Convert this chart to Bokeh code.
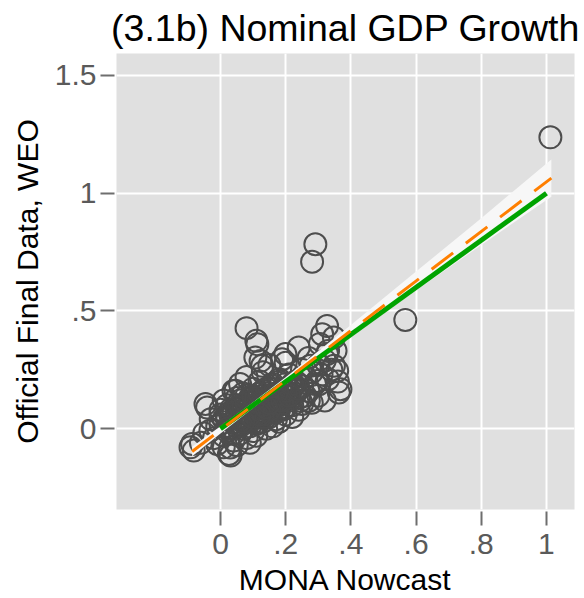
from bokeh.plotting import figure
from bokeh.models import FixedTicker, ColumnDataSource
from bokeh.embed import file_html
from bokeh.resources import INLINE

# ---- data ----
nowcast = [
    1.012, 0.291, 0.281, 0.567, 0.080, 0.327, 0.312, 0.348, 0.110, 0.113,
    0.240, 0.353, 0.327, 0.199, 0.107, 0.123, 0.189, 0.128, 0.276, 0.348,
    0.358, 0.297, 0.302, 0.368, 0.363, 0.245, 0.271, 0.250, 0.199, -0.092,
    -0.082, -0.087, -0.041, -0.046, 0.031, 0.026, 0.046, -0.010, 0.010, -0.031,
    0.00, 0.01, 0.02, 0.02, 0.03, 0.03, 0.04, 0.04, 0.05, 0.05,
    0.05, 0.06, 0.06, 0.06, 0.07, 0.07, 0.07, 0.08, 0.08, 0.08,
    0.09, 0.09, 0.09, 0.10, 0.10, 0.10, 0.10, 0.11, 0.11, 0.11,
    0.12, 0.12, 0.12, 0.12, 0.13, 0.13, 0.13, 0.14, 0.14, 0.14,
    0.14, 0.15, 0.15, 0.15, 0.16, 0.16, 0.16, 0.17, 0.17, 0.17,
    0.18, 0.18, 0.18, 0.19, 0.19, 0.20, 0.20, 0.20, 0.21, 0.21,
    0.22, 0.22, 0.23, 0.23, 0.24, 0.25, 0.26, 0.26, 0.27, 0.28,
    0.29, 0.30, 0.31, 0.32, 0.33, 0.34, -0.01, -0.02, -0.03, -0.05,
    -0.06, 0.00, 0.01, 0.02, 0.03, 0.04, 0.05, 0.06, 0.08, 0.09,
    0.11, 0.13, 0.15, 0.16, 0.18, 0.20, 0.22, 0.24, 0.25, 0.27,
    0.28, 0.30, 0.305, 0.33, 0.36, 0.32,
    0.04, 0.06, 0.07, 0.09, 0.10, 0.11, 0.12, 0.13, 0.14, 0.15,
    0.16, 0.17, 0.18, 0.19, 0.21, 0.07, 0.08, 0.10, 0.12, 0.14,
    0.15, 0.17, 0.19, 0.03, 0.05, 0.08, 0.11, 0.13, 0.16, 0.18,
    0.02, 0.06, 0.09, 0.12, 0.14, 0.17, 0.20, 0.23, 0.10, 0.13,
    0.01, 0.03, 0.05, 0.07, 0.09, 0.11, 0.13, 0.15, 0.17, 0.19,
    0.04, 0.06, 0.08, 0.10, 0.12, 0.14, 0.16, 0.18, 0.20, 0.22,
    0.00, 0.02, 0.05, 0.07, 0.10, 0.12, 0.15, 0.18, 0.21, 0.24,
]
official = [
    1.237, 0.783, 0.709, 0.462, 0.427, 0.436, 0.401, 0.387, 0.373, 0.359,
    0.345, 0.331, 0.317, 0.317, 0.302, 0.288, 0.295, 0.267, 0.267, 0.267,
    0.246, 0.203, 0.189, 0.168, 0.154, 0.119, 0.119, 0.105, 0.090, -0.079,
    -0.093, -0.065, 0.090, 0.105, -0.114, -0.107, 0.161, -0.065, -0.079, -0.008,
    0.02, -0.03, 0.05, -0.01, 0.08, 0.00, 0.03, -0.05, 0.10, 0.01,
    0.06, -0.02, 0.04, 0.12, 0.07, 0.00, 0.15, 0.03, 0.09, -0.04,
    0.06, 0.13, 0.01, 0.10, 0.04, 0.17, -0.01, 0.07, 0.12, 0.02,
    0.09, 0.15, 0.05, 0.20, 0.11, 0.03, 0.07, 0.13, 0.08, 0.17,
    0.00, 0.10, 0.05, 0.14, 0.12, 0.08, 0.19, 0.15, 0.10, 0.04,
    0.13, 0.21, 0.08, 0.16, 0.11, 0.14, 0.19, 0.06, 0.12, 0.23,
    0.17, 0.10, 0.15, 0.20, 0.13, 0.18, 0.22, 0.14, 0.16, 0.24,
    0.19, 0.27, 0.23, 0.29, 0.21, 0.25, 0.01, -0.04, 0.04, -0.02,
    -0.06, 0.08, 0.12, 0.10, -0.08, 0.16, -0.07, 0.19, 0.22, -0.06,
    -0.03, 0.24, 0.27, 0.01, 0.03, 0.28, 0.05, 0.08, 0.25, 0.30,
    0.11, 0.14, 0.36, 0.33, 0.20, 0.12,
    0.07, 0.09, 0.04, 0.11, 0.08, 0.05, 0.10, 0.14, 0.06, 0.11,
    0.09, 0.13, 0.11, 0.08, 0.15, 0.10, 0.14, 0.13, 0.07, 0.10,
    0.17, 0.07, 0.12, 0.06, 0.13, 0.05, 0.09, 0.16, 0.17, 0.10,
    0.04, 0.02, 0.11, 0.03, 0.05, 0.12, 0.09, 0.17, 0.08, 0.06,
    0.04, 0.07, 0.02, 0.09, 0.06, 0.13, 0.10, 0.08, 0.15, 0.12,
    -0.02, 0.01, 0.11, 0.05, 0.15, 0.09, 0.18, 0.12, 0.16, 0.19,
    0.06, 0.00, 0.09, 0.03, 0.14, 0.06, 0.11, 0.20, 0.14, 0.17,
]

# fitted line and its confidence band
fit_x = [-0.087, 1.015]
fit_y = [-0.097, 1.064]
band_x = [-0.087, 0.0, 0.1, 0.2, 0.4, 0.6, 0.8, 1.015]
band_lo = [-0.117, -0.020, 0.088, 0.193, 0.392, 0.587, 0.780, 0.985]
band_hi = [-0.077, 0.010, 0.112, 0.219, 0.440, 0.667, 0.894, 1.143]
# 45-degree reference line
ref_x = [0.0, 1.0]
ref_y = [0.0, 1.0]

x_ticks = [0, 0.2, 0.4, 0.6, 0.8, 1.0]
x_labels = ["0", ".2", ".4", ".6", ".8", "1"]
y_ticks = [0, 0.5, 1.0, 1.5]
y_labels = ["0", ".5", "1", "1.5"]

FONT = "Liberation Sans"

p = figure(width=584, height=598, x_range=(-0.319, 1.086), y_range=(-0.343, 1.593),
           output_backend="svg", toolbar_location=None,
           min_border_left=116, min_border_right=10, min_border_top=52, min_border_bottom=89,
           title="(3.1b) Nominal GDP Growth")
p.background_fill_color = "#e0e0e0"
p.border_fill_color = "white"
p.outline_line_color = None

p.title.text_font = FONT
p.title.text_font_size = "37.5px"
p.title.text_font_style = "normal"
p.title.align = "center"
p.title.text_color = "black"
p.title.standoff = 9

p.xgrid.ticker = FixedTicker(ticks=x_ticks)
p.ygrid.ticker = FixedTicker(ticks=y_ticks)
for g in (p.xgrid, p.ygrid):
    g.grid_line_color = "white"
    g.grid_line_width = 2

p.xaxis.ticker = FixedTicker(ticks=x_ticks)
p.yaxis.ticker = FixedTicker(ticks=y_ticks)
p.xaxis.major_label_overrides = {t: l for t, l in zip(x_ticks, x_labels)}
p.yaxis.major_label_overrides = {t: l for t, l in zip(y_ticks, y_labels)}
p.xaxis.axis_label = "MONA Nowcast"
p.yaxis.axis_label = "Official Final Data, WEO"
for ax in (p.xaxis[0], p.yaxis[0]):
    ax.axis_line_color = None
    ax.major_tick_in = -2
    ax.major_tick_out = 16
    ax.major_tick_line_color = "#6e6e6e"
    ax.major_tick_line_width = 2
    ax.minor_tick_line_color = None
    ax.major_label_text_font = FONT
    ax.major_label_text_font_size = "30px"
    ax.major_label_text_color = "#5a5a5a"
    ax.axis_label_text_font = FONT
    ax.axis_label_text_font_size = "30px"
    ax.axis_label_text_font_style = "normal"
    ax.axis_label_text_color = "black"
p.xaxis.major_label_standoff = 8
p.xaxis.axis_label_standoff = 6
p.yaxis.major_label_standoff = 4
p.yaxis.axis_label_standoff = 8
p.yaxis.major_label_orientation = "horizontal"

src = ColumnDataSource(dict(x=nowcast, y=official))
p.scatter("x", "y", source=src, size=22, marker="circle", fill_color=None,
          line_color="#4d4d4d", line_width=2)

p.varea(x=band_x, y1=band_lo, y2=band_hi, fill_color="#f7f7f7", fill_alpha=1.0)
p.line(ref_x, ref_y, line_color="#00a300", line_width=5)
p.line(fit_x, fit_y, line_color="#ff7f00", line_width=3, line_dash="27 16")

open("out.html", "w").write(file_html(p, INLINE))
